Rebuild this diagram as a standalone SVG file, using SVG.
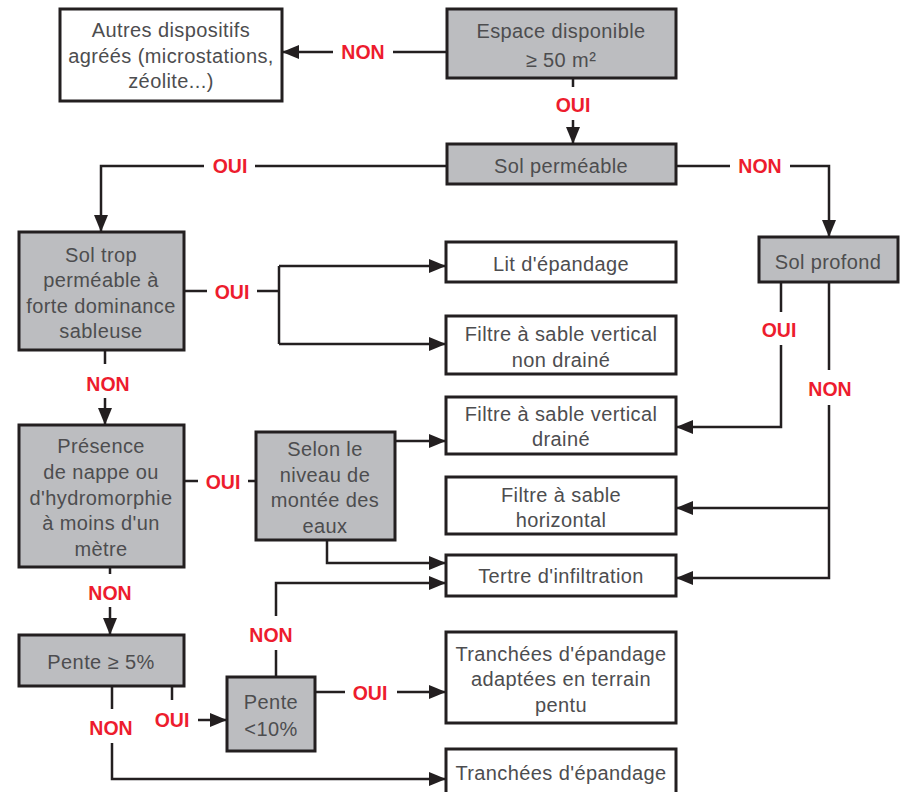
<svg xmlns="http://www.w3.org/2000/svg" width="908" height="792" viewBox="0 0 908 792">
<defs>
<marker id="ah" markerUnits="userSpaceOnUse" markerWidth="17" markerHeight="14" refX="16" refY="7" orient="auto"><path d="M0,0 L17,7 L0,14 z" fill="#231f20"/></marker>
<style>
.q{fill:#bcbdc0;stroke:#231f20;stroke-width:3}
.r{fill:#fff;stroke:#231f20;stroke-width:3}
.t{font-family:"Liberation Sans",Arial,sans-serif;font-size:20px;fill:#4d4d4f;text-anchor:middle;letter-spacing:0.4px}
.l{font-family:"Liberation Sans",Arial,sans-serif;font-size:19.5px;font-weight:bold;fill:#ed1c2e;text-anchor:middle}
.c path{fill:none;stroke:#231f20;stroke-width:2.5}
.a{marker-end:url(#ah)}
</style>
</defs>
<rect width="908" height="792" fill="#fff"/>
<g class="c" id="connectors">
<path class="a" d="M447,52 H393 M333,52 H283"/>
<path class="a" d="M573,78 V87 M573,120 V143"/>
<path class="a" d="M447,166 H255 M204,166 H101 V231"/>
<path class="a" d="M676,166 H730 M790,166 H829 V236"/>
<path d="M184,291 H207 M257,291 H279 M279,266 V344"/>
<path class="a" d="M279,266 H445"/>
<path class="a" d="M279,344 H445"/>
<path class="a" d="M105,350 V364 M105,398 V424"/>
<path class="a" d="M781,282 V312 M781,345 V427 H677"/>
<path class="a" d="M829,282 V370 M829,405 V578 H677"/>
<path class="a" d="M829,508 H677"/>
<path d="M184,481 H198 M248,481 H256"/>
<path class="a" d="M395,441 H445"/>
<path class="a" d="M327,540 V563 H445"/>
<path class="a" d="M276,677 V650 M276,616 V583 H445"/>
<path class="a" d="M110,567 V574 M110,607 V634"/>
<path class="a" d="M112,686 V709 M112,743 V779 H445"/>
<path d="M172,686 V700"/>
<path class="a" d="M198,720 H226"/>
<path class="a" d="M315,692 H345 M397,692 H445"/>
</g>
<g id="labels">
<text class="l" x="363" y="59">NON</text>
<text class="l" x="573" y="112">OUI</text>
<text class="l" x="230" y="173">OUI</text>
<text class="l" x="760" y="173">NON</text>
<text class="l" x="232" y="299">OUI</text>
<text class="l" x="108" y="391">NON</text>
<text class="l" x="779" y="337">OUI</text>
<text class="l" x="830" y="396">NON</text>
<text class="l" x="223" y="489">OUI</text>
<text class="l" x="110" y="600">NON</text>
<text class="l" x="271" y="642">NON</text>
<text class="l" x="111" y="735">NON</text>
<text class="l" x="172" y="727">OUI</text>
<text class="l" x="370" y="700">OUI</text>
</g>
<g id="autres"><rect class="r" x="60" y="9" width="222" height="92"/>
<text class="t" x="171" y="37">Autres dispositifs</text><text class="t" x="171" y="63">agréés (microstations,</text><text class="t" x="171" y="88">zéolite...)</text></g>
<g id="espace"><rect class="q" x="447" y="9" width="229" height="69"/>
<text class="t" x="561" y="38">Espace disponible</text><text class="t" x="561" y="67">≥ 50 m²</text></g>
<g id="solperm"><rect class="q" x="447" y="144" width="229" height="40"/>
<text class="t" x="561" y="173">Sol perméable</text></g>
<g id="soltrop"><rect class="q" x="19" y="232" width="165" height="118"/>
<text class="t" x="101" y="262">Sol trop</text><text class="t" x="101" y="287">perméable à</text><text class="t" x="101" y="313">forte dominance</text><text class="t" x="101" y="338">sableuse</text></g>
<g id="lit"><rect class="r" x="446" y="242" width="230" height="40"/>
<text class="t" x="561" y="271">Lit d'épandage</text></g>
<g id="fsvnd"><rect class="r" x="446" y="316" width="230" height="58"/>
<text class="t" x="561" y="341">Filtre à sable vertical</text><text class="t" x="561" y="367">non drainé</text></g>
<g id="solprofond"><rect class="q" x="759" y="237" width="139" height="45"/>
<text class="t" x="828" y="269">Sol profond</text></g>
<g id="fsvd"><rect class="r" x="446" y="397" width="230" height="57"/>
<text class="t" x="561" y="421">Filtre à sable vertical</text><text class="t" x="561" y="446">drainé</text></g>
<g id="fsh"><rect class="r" x="446" y="477" width="230" height="57"/>
<text class="t" x="561" y="502">Filtre à sable</text><text class="t" x="561" y="527">horizontal</text></g>
<g id="tertre"><rect class="r" x="446" y="555" width="230" height="41"/>
<text class="t" x="561" y="583">Tertre d'infiltration</text></g>
<g id="presence"><rect class="q" x="19" y="425" width="165" height="142"/>
<text class="t" x="101" y="453">Présence</text><text class="t" x="101" y="479">de nappe ou</text><text class="t" x="101" y="505">d'hydromorphie</text><text class="t" x="101" y="530">à moins d'un</text><text class="t" x="101" y="556">mètre</text></g>
<g id="selon"><rect class="q" x="256" y="432" width="139" height="108"/>
<text class="t" x="325" y="456">Selon le</text><text class="t" x="325" y="482">niveau de</text><text class="t" x="325" y="507">montée des</text><text class="t" x="325" y="533">eaux</text></g>
<g id="pente5"><rect class="q" x="19" y="635" width="165" height="51"/>
<text class="t" x="101" y="669">Pente ≥ 5%</text></g>
<g id="pente10"><rect class="q" x="227" y="677" width="88" height="74"/>
<text class="t" x="271" y="709">Pente</text><text class="t" x="271" y="736">&lt;10%</text></g>
<g id="tradapt"><rect class="r" x="446" y="632" width="230" height="91"/>
<text class="t" x="561" y="661">Tranchées d'épandage</text><text class="t" x="561" y="686">adaptées en terrain</text><text class="t" x="561" y="712">pentu</text></g>
<g id="tranch"><rect class="r" x="446" y="749" width="230" height="60"/>
<text class="t" x="561" y="780">Tranchées d'épandage</text></g>
</svg>
